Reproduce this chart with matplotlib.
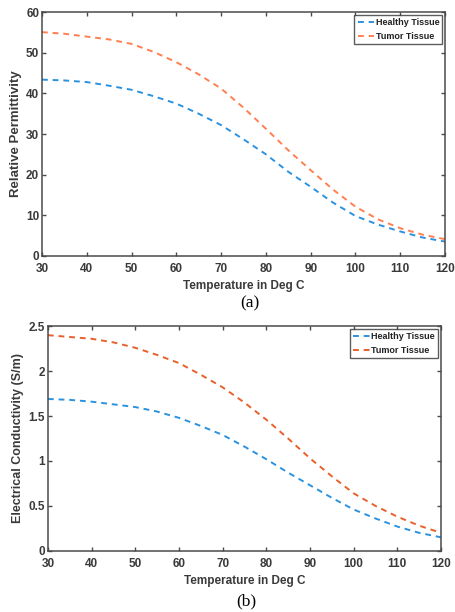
import numpy as np
import matplotlib.pyplot as plt

temp = [30, 35, 40, 45, 50, 55, 60, 65, 70, 75, 80, 85, 90, 95, 100, 105, 110, 115, 120]

perm_healthy = [43.4, 43.2, 42.8, 41.9, 40.9, 39.3, 37.5, 35.0, 32.2, 28.7, 25.0,
                20.7, 17.0, 13.1, 9.8, 7.7, 6.0, 4.5, 3.5]
perm_tumor = [55.1, 54.7, 54.0, 53.3, 52.2, 50.2, 47.7, 44.7, 41.2, 36.5, 31.3,
              26.0, 21.1, 16.3, 12.1, 9.0, 6.8, 5.2, 4.1]

cond_healthy = [1.69, 1.68, 1.66, 1.63, 1.60, 1.55, 1.48, 1.39, 1.29, 1.16, 1.02,
                0.87, 0.73, 0.59, 0.46, 0.36, 0.27, 0.20, 0.15]
cond_tumor = [2.40, 2.38, 2.36, 2.32, 2.26, 2.18, 2.09, 1.96, 1.82, 1.65, 1.46,
              1.25, 1.03, 0.83, 0.64, 0.50, 0.38, 0.28, 0.20]

x_ticks = [30, 40, 50, 60, 70, 80, 90, 100, 110, 120]

BLUE = '#2b92e0'
ORANGE_A = '#ff7f50'
ORANGE_B = '#e8602a'
FRAME = '#4a4a4a'
TEXT = '#3a3a3a'

plt.rcParams['font.family'] = ['Liberation Sans', 'DejaVu Sans']

fig = plt.figure(figsize=(4.56, 6.12), dpi=100)
ax1 = fig.add_axes([0.092, 0.582, 0.884, 0.398])
ax2 = fig.add_axes([0.105, 0.100, 0.862, 0.367])


def style(ax, ylim, yticks, ylabel, ylabel_size):
    ax.set_xlim(30, 120)
    ax.set_ylim(*ylim)
    ax.set_xticks(x_ticks)
    ax.set_yticks(yticks)
    ax.set_yticklabels([('%g' % v) for v in yticks])
    ax.tick_params(direction='in', length=3, width=1, colors=FRAME,
                   top=True, right=True, labelsize=8.5)
    ax.tick_params(axis='x', pad=5)
    ax.tick_params(axis='y', pad=2)
    for lab in ax.get_xticklabels() + ax.get_yticklabels():
        lab.set_fontweight('bold')
        lab.set_color(TEXT)
    for s in ax.spines.values():
        s.set_color(FRAME)
        s.set_linewidth(1.1)
    ax.set_xlabel('Temperature in Deg C', fontsize=8.5, fontweight='bold',
                  color=TEXT, labelpad=4)
    ax.set_ylabel(ylabel, fontsize=ylabel_size, fontweight='bold', color=TEXT,
                  labelpad=3)
    leg = ax.legend(loc='upper right', fontsize=6.5, frameon=True, fancybox=False,
                    handlelength=1.8, handletextpad=0.2, borderpad=0.35,
                    labelspacing=0.55, borderaxespad=0.3)
    leg.get_frame().set_edgecolor('#333333')
    leg.get_frame().set_linewidth(1.0)
    for t in leg.get_texts():
        t.set_fontweight('bold')
        t.set_color('#222222')


ax1.plot(temp, perm_healthy, '--', color=BLUE, lw=1.4, dashes=(3, 2.5),
         label='Healthy Tissue')
ax1.plot(temp, perm_tumor, '--', color=ORANGE_A, lw=1.4, dashes=(3, 2.5),
         label='Tumor Tissue')
style(ax1, (0, 60), [0, 10, 20, 30, 40, 50, 60], 'Relative Permittivity', 9.5)

ax2.plot(temp, cond_healthy, '--', color=BLUE, lw=1.4, dashes=(3, 2.5),
         label='Healthy Tissue')
ax2.plot(temp, cond_tumor, '--', color=ORANGE_B, lw=1.4, dashes=(3, 2.5),
         label='Tumor Tissue')
style(ax2, (0, 2.5), [0, 0.5, 1, 1.5, 2, 2.5], 'Electrical Conductivity (S/m)', 9)

fig.text(0.548, 0.505, '(a)', fontsize=12.5, ha='center', va='center',
         family=['Liberation Serif', 'DejaVu Serif'])
fig.text(0.54, 0.017, '(b)', fontsize=12.5, ha='center', va='center',
         family=['Liberation Serif', 'DejaVu Serif'])

fig.savefig('out.png', dpi=100)
